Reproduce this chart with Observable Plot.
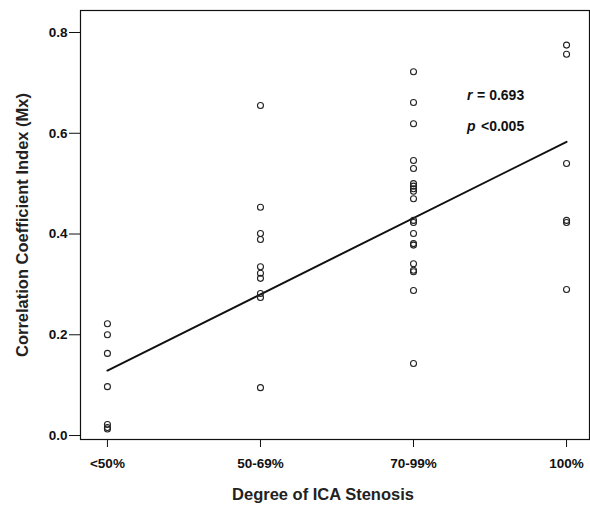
<!DOCTYPE html>
<html><head><meta charset="utf-8">
<script src="https://cdn.jsdelivr.net/npm/d3@7"></script>
<script src="https://cdn.jsdelivr.net/npm/@observablehq/plot@0.6"></script>
<style>
body{margin:0;background:#fff;}
svg{font-family:"Liberation Sans",Arial,sans-serif;}
</style>
</head><body>
<div id="chart"></div>
<script>
const categories = ["<50%", "50-69%", "70-99%", "100%"];
const lt50 = [0.222, 0.200, 0.163, 0.097, 0.022, 0.016, 0.013];
const s50to69 = [0.655, 0.453, 0.401, 0.389, 0.335, 0.322, 0.312, 0.282, 0.274, 0.095];
const s70to99 = [0.722, 0.661, 0.619, 0.546, 0.530, 0.500, 0.495, 0.490, 0.485, 0.470, 0.427, 0.423, 0.401, 0.381, 0.378, 0.341, 0.328, 0.325, 0.288, 0.143];
const s100 = [0.775, 0.757, 0.540, 0.427, 0.423, 0.290];
const fitLine = [0.129, 0.583]; // fitted values at first and last category
const yTicks = [0, 0.2, 0.4, 0.6, 0.8];
const statLabels = [{sym: "r", rest: "= 0.693"}, {sym: "p", rest: "\u00a0<0.005"}];

const series = [lt50, s50to69, s70to99, s100];
const points = series.flatMap((vals, i) => vals.map(v => ({x: i + 1, y: v})));
const fit = [{x: 1, y: fitLine[0]}, {x: categories.length, y: fitLine[1]}];
const stats = statLabels.map((d, i) => ({...d, x: 3.35, y: 0.675 - i * 0.062}));

const plot = Plot.plot({
  width: 590,
  height: 507,
  marginLeft: 80,
  marginRight: 1,
  marginTop: 10,
  marginBottom: 68,
  style: {fontFamily: "'Liberation Sans', Arial, sans-serif", background: "#fff", color: "#111"},
  x: {domain: [0.824, 4.15], label: null},
  y: {domain: [-0.0079, 0.8437], label: null},
  marks: [
    Plot.frame({stroke: "#111", strokeWidth: 1.2}),
    Plot.axisX({ticks: [1, 2, 3, 4], tickFormat: d => categories[d - 1], tickSize: 8, tickPadding: 11, fontWeight: "bold", fontSize: 13.5, label: null}),
    Plot.axisY({ticks: yTicks, tickFormat: d3.format(".1f"), tickSize: 11, tickPadding: 2, fontWeight: "bold", fontSize: 13.5, label: null}),
    Plot.line(fit, {x: "x", y: "y", stroke: "#111", strokeWidth: 2}),
    Plot.dot(points, {x: "x", y: "y", r: 3, stroke: "#222", strokeWidth: 1.1, fill: "none"}),
    Plot.text(stats, {x: "x", y: "y", text: "sym", textAnchor: "start", fontStyle: "italic", fontWeight: "bold", fontSize: 14, fill: "#111"}),
    Plot.text(stats, {x: "x", y: "y", text: "rest", textAnchor: "start", dx: 10, fontWeight: "bold", fontSize: 14, fill: "#111"}),
    Plot.text(["Degree of ICA Stenosis"], {frameAnchor: "bottom", textAnchor: "middle", dx: -12, dy: 60, fontWeight: "bold", fontSize: 16.5, fill: "#222"}),
    Plot.text(["Correlation Coefficient Index (Mx)"], {frameAnchor: "left", textAnchor: "middle", dx: -58, rotate: -90, fontWeight: "bold", fontSize: 16.5, fill: "#222"})
  ]
});
document.getElementById("chart").appendChild(plot);
</script>
</body></html>
